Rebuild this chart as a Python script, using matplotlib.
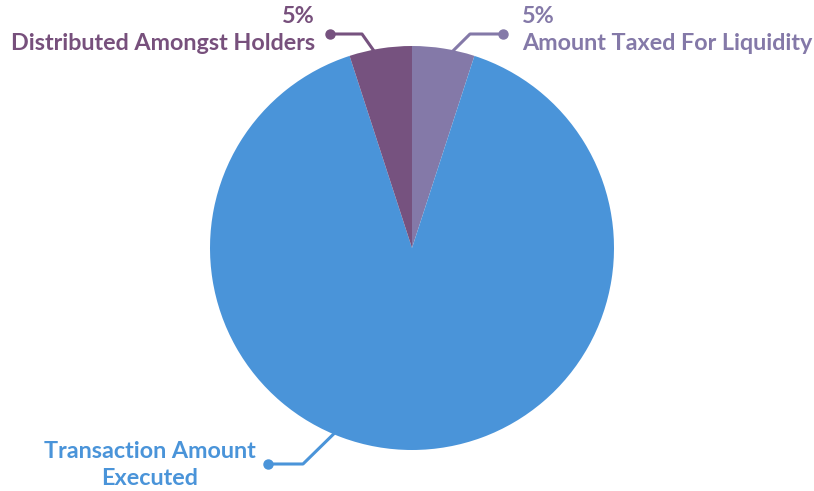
import numpy as np
import matplotlib.pyplot as plt

# slices, clockwise from 12 o'clock
labels = ["Amount Taxed For Liquidity", "Transaction Amount\nExecuted", "Distributed Amongst Holders"]
values = [5, 90, 5]
pct_text = ["5%", "", "5%"]
colors = ["#8479a8", "#4a94d9", "#76527f"]
text_colors = ["#8479a8", "#4a94d9", "#77507c"]

W, H = 814, 491
cx, cy, r = 412, H - 248, 202

fig = plt.figure(figsize=(W / 100, H / 100), dpi=100)
ax = fig.add_axes([0, 0, 1, 1])
ax.set_xlim(0, W)
ax.set_ylim(0, H)
ax.set_aspect("equal")
ax.axis("off")

ax.pie(values, colors=colors, startangle=90, counterclock=False,
       center=(cx, cy), radius=r, wedgeprops=dict(linewidth=0))
ax.set_xlim(0, W)
ax.set_ylim(0, H)

# leader lines: (angle on pie edge, elbow x, elbow y, dot x, dot y)
leaders = [
    (78.7, 470, 34, 503, 34),
    (247.5, 303, 464, 268, 464),
    (100.7, 362, 34, 330, 34),
]
font = dict(family=["Lato", "DejaVu Sans"], fontweight="bold", fontsize=16.8)

for i, (ang, ex, ey, dx, dy) in enumerate(leaders):
    a = np.radians(ang)
    px, py = cx + 0.985 * r * np.cos(a), cy + 0.985 * r * np.sin(a)
    ax.plot([px, ex, dx], [py, H - ey, H - dy], color=colors[i], lw=2.2,
            solid_capstyle="round", solid_joinstyle="round")
    ax.plot(dx, H - dy, "o", color=colors[i], ms=6.5)

# text
ax.text(522, H - 16, pct_text[0], color=text_colors[0], ha="left", va="center", **font)
ax.text(522, H - 43, labels[0], color=text_colors[0], ha="left", va="center", **font)
ax.text(315, H - 16, pct_text[2], color=text_colors[2], ha="right", va="center", **font)
ax.text(315, H - 43, labels[2], color=text_colors[2], ha="right", va="center", **font)
ax.text(150, H - 465, labels[1], color=text_colors[1], ha="center", va="center",
        linespacing=1.3, **font)

fig.savefig("out.png", dpi=100)
